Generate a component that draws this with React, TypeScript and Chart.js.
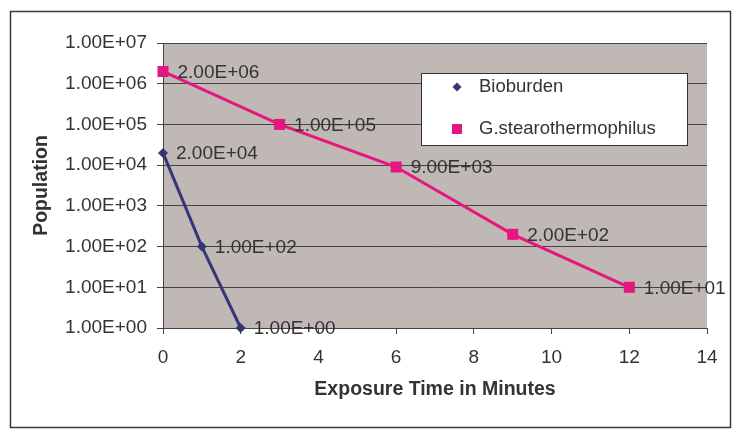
import React, { useEffect, useRef } from 'react';
import { Chart, registerables } from 'chart.js';

Chart.register(...registerables);

// ---- data ----
const seriesNames = ['Bioburden', 'G.stearothermophilus'];
const bioTimes = [0, 1, 2];
const bioValues = [2e4, 1e2, 1e0];
const gsTimes = [0, 3, 6, 9, 12];
const gsValues = [2e6, 1e5, 9e3, 2e2, 1e1];
const xTickValues = [0, 2, 4, 6, 8, 10, 12, 14];
const yTickValues = [1, 10, 100, 1e3, 1e4, 1e5, 1e6, 1e7];
const xTitle = 'Exposure Time in Minutes';
const yTitle = 'Population';

const colors = ['#35357A', '#E5177F'];
const FONT = '"Liberation Sans", Arial, sans-serif';
const TEXT = '#333333';
const PLOT_BG = '#C0B8B5';
const LINE = '#444444';

function fmtE(v: number): string {
  const e = Math.floor(Math.log10(v) + 1e-9);
  const m = v / Math.pow(10, e);
  const sign = e < 0 ? '-' : '+';
  return m.toFixed(2) + 'E' + sign + String(Math.abs(e)).padStart(2, '0');
}

function drawMarker(ctx: CanvasRenderingContext2D, kind: number, x: number, y: number, r: number, color: string) {
  ctx.save();
  ctx.fillStyle = color;
  ctx.beginPath();
  if (kind === 0) {
    ctx.moveTo(x, y - r);
    ctx.lineTo(x + r, y);
    ctx.lineTo(x, y + r);
    ctx.lineTo(x - r, y);
    ctx.closePath();
  } else {
    ctx.rect(x - r, y - r, 2 * r, 2 * r);
  }
  ctx.fill();
  ctx.restore();
}

const framePlugin = {
  id: 'frame',
  beforeDraw(chart: any) {
    const { ctx, chartArea } = chart;
    ctx.save();
    ctx.fillStyle = PLOT_BG;
    ctx.fillRect(chartArea.left, chartArea.top, chartArea.right - chartArea.left, chartArea.bottom - chartArea.top);
    ctx.strokeStyle = '#3a3a3a';
    ctx.lineWidth = 1.5;
    ctx.strokeRect(2.5, 3.5, 720, 416);
    ctx.restore();
  },
  afterDraw(chart: any) {
    const { ctx, chartArea } = chart;
    ctx.save();
    ctx.fillStyle = TEXT;
    ctx.font = `bold 19.5px ${FONT}`;
    ctx.textAlign = 'center';
    ctx.textBaseline = 'middle';
    ctx.fillText(xTitle, (chartArea.left + chartArea.right) / 2, 382);
    ctx.translate(34, (chartArea.top + chartArea.bottom) / 2);
    ctx.rotate(-Math.PI / 2);
    ctx.fillText(yTitle, 0, 0);
    ctx.restore();

    // legend
    const lx = 413, ly = 65, lw = 266, lh = 72;
    ctx.save();
    ctx.fillStyle = '#ffffff';
    ctx.fillRect(lx, ly, lw, lh);
    ctx.strokeStyle = '#333';
    ctx.lineWidth = 1;
    ctx.strokeRect(lx + 0.5, ly + 0.5, lw, lh);
    ctx.font = `18.5px ${FONT}`;
    ctx.fillStyle = TEXT;
    ctx.textAlign = 'left';
    ctx.textBaseline = 'middle';
    const rows = [79, 121];
    seriesNames.forEach((name, i) => {
      drawMarker(ctx, i, 449, rows[i], i === 0 ? 4.5 : 5, colors[i]);
      ctx.fillStyle = TEXT;
      ctx.fillText(name, 471, rows[i]);
    });
    ctx.restore();
  },
  afterDatasetsDraw(chart: any) {
    const { ctx } = chart;
    ctx.save();
    ctx.font = `19px ${FONT}`;
    ctx.fillStyle = TEXT;
    ctx.textAlign = 'left';
    ctx.textBaseline = 'middle';
    chart.data.datasets.forEach((ds: any, di: number) => {
      const meta = chart.getDatasetMeta(di);
      const off = di === 0 ? 13 : 14.5;
      meta.data.forEach((pt: any, i: number) => {
        ctx.fillText(fmtE(ds.data[i].y), pt.x + off, pt.y + 1);
      });
    });
    ctx.restore();
  },
};

export default function App() {
  const ref = useRef<HTMLCanvasElement>(null);
  useEffect(() => {
    Chart.defaults.font.family = FONT;
    const chart = new Chart(ref.current as HTMLCanvasElement, {
      type: 'line',
      data: {
        datasets: [
          {
            label: seriesNames[0],
            data: bioTimes.map((t, i) => ({ x: t, y: bioValues[i] })),
            borderColor: colors[0],
            backgroundColor: colors[0],
            borderWidth: 3,
            pointStyle: 'rectRot',
            pointRadius: 5,
            pointBorderWidth: 0,
            tension: 0,
            clip: false,
          },
          {
            label: seriesNames[1],
            data: gsTimes.map((t, i) => ({ x: t, y: gsValues[i] })),
            borderColor: colors[1],
            backgroundColor: colors[1],
            borderWidth: 3,
            pointStyle: 'rect',
            pointRadius: 7.8,
            pointBorderWidth: 0,
            tension: 0,
            clip: false,
          },
        ],
      },
      options: {
        responsive: false,
        animation: false,
        layout: { padding: { left: 0, top: 35, right: 30, bottom: 0 } },
        plugins: { legend: { display: false }, tooltip: { enabled: false } },
        scales: {
          x: {
            type: 'linear',
            position: 'bottom',
            min: 0,
            max: 14,
            afterBuildTicks: (s: any) => { s.ticks = xTickValues.map((v) => ({ value: v })); },
            afterFit: (s: any) => { s.height = 104; },
            ticks: { font: { size: 19 }, color: TEXT, padding: 12, maxRotation: 0, autoSkip: false },
            grid: { drawOnChartArea: false, drawTicks: true, tickLength: 6, color: LINE },
            border: { display: true, color: LINE, width: 1 },
          },
          y: {
            type: 'logarithmic',
            min: 1,
            max: 1e7,
            afterBuildTicks: (s: any) => { s.ticks = yTickValues.map((v) => ({ value: v })); },
            afterFit: (s: any) => { s.width = 155; },
            ticks: { font: { size: 19 }, color: TEXT, padding: 10, callback: (v: any) => fmtE(Number(v)), autoSkip: false },
            grid: { drawOnChartArea: true, drawTicks: true, tickLength: 6, color: LINE, lineWidth: 1 },
            border: { display: true, color: LINE, width: 1 },
          },
        },
      },
      plugins: [framePlugin],
    } as any);
    return () => chart.destroy();
  }, []);
  return (
    <div style={{ width: 729, height: 424 }}>
      <canvas ref={ref} width={729} height={424} style={{ display: 'block' }} />
    </div>
  );
}
